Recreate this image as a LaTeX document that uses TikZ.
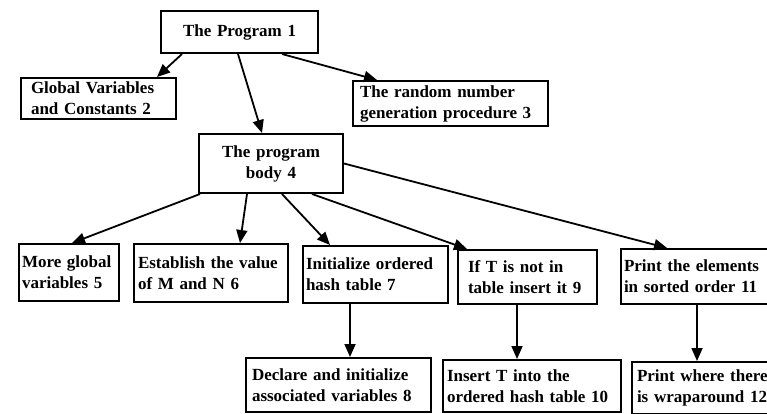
\documentclass[tikz,border=0pt]{standalone}
\usepackage{fontspec}
\setmainfont{Liberation Serif}
\usetikzlibrary{arrows.meta,calc}
\tikzset{
  box/.style={draw, line width=2pt, anchor=north west, align=left, inner ysep=0pt,
    font=\bfseries\fontsize{17}{21}\selectfont},
  conn/.style={line width=1.8pt, -{Triangle[length=13pt,width=11pt]}},
}
\begin{document}
\begin{tikzpicture}[x=1pt,y=-1pt]
\useasboundingbox (0,0) rectangle (767,413);
\clip (0,0) rectangle (767,413);
% level 1
\node[box, align=center, text width=149pt, inner xsep=4pt, minimum height=42pt] (n1) at (160,10) {The Program 1};
% level 2
\node[box, text width=135pt, inner xsep=10pt, minimum height=41pt] (n2) at (20,77) {Global Variables\\and Constants 2};
\node[box, text width=181pt, inner xsep=7pt, minimum height=45pt] (n3) at (352,80) {\mbox{The random number}\\\mbox{generation procedure 3}};
\node[box, align=center, text width=136pt, inner xsep=4pt, minimum height=59pt] (n4) at (198,133) {The program\\body 4};
% level 3
\node[box, text width=94pt, inner xsep=3pt, minimum height=57pt] (n5) at (18,243) {More global\\variables 5};
\node[box, text width=146pt, inner xsep=4pt, minimum height=58pt] (n6) at (133,243) {Establish the value\\of M and N 6};
\node[box, text width=139pt, inner xsep=3pt, minimum height=57pt] (n7) at (302,245) {Initialize ordered\\hash table 7};
\node[box, text width=119pt, inner xsep=10pt, minimum height=54pt] (n9) at (457,249) {If T is not in\\table insert it 9};
\node[box, text width=164pt, inner xsep=3pt, minimum height=55pt] (n11) at (620,248) {Print the elements\\in sorted order 11};
% level 4
\node[box, text width=173pt, inner xsep=6pt, minimum height=54pt] (n8) at (245,357) {Declare and initialize\\associated variables 8};
\node[box, text width=170pt, inner xsep=4pt, minimum height=52pt] (n10) at (442,359) {Insert T into the\\ordered hash table 10};
\node[box, text width=150pt, inner xsep=5pt, minimum height=52pt] (n12) at (631,361) {Print where there\\is wraparound 12};
% connectors
\draw[conn] ($(n1.south west)+(22,0)$) -- ($(n2.north east)+(-20,0)$);
\draw[conn] ($(n1.south west)+(78,0)$) -- ($(n4.north west)+(64,0)$);
\draw[conn] ($(n1.south east)+(-37,0)$) -- ($(n3.north west)+(25,0)$);
\draw[conn] ($(n4.south west)+(2,0)$) -- ($(n5.north west)+(54,0)$);
\draw[conn] ($(n4.south west)+(49,0)$) -- ($(n6.north west)+(107,0)$);
\draw[conn] ($(n4.south west)+(84,0)$) -- ($(n7.north west)+(28,0)$);
\draw[conn] ($(n4.south east)+(-32,0)$) -- ($(n9.north west)+(10,0)$);
\draw[conn] (n4.east) -- ($(n11.north west)+(47,0)$);
\draw[conn] ($(n7.south west)+(48,0)$) -- ($(n8.north west)+(105,0)$);
\draw[conn] ($(n9.south west)+(60,0)$) -- ($(n10.north west)+(75,0)$);
\draw[conn] ($(n11.south west)+(77,0)$) -- ($(n12.north west)+(66,0)$);
\end{tikzpicture}
\end{document}
